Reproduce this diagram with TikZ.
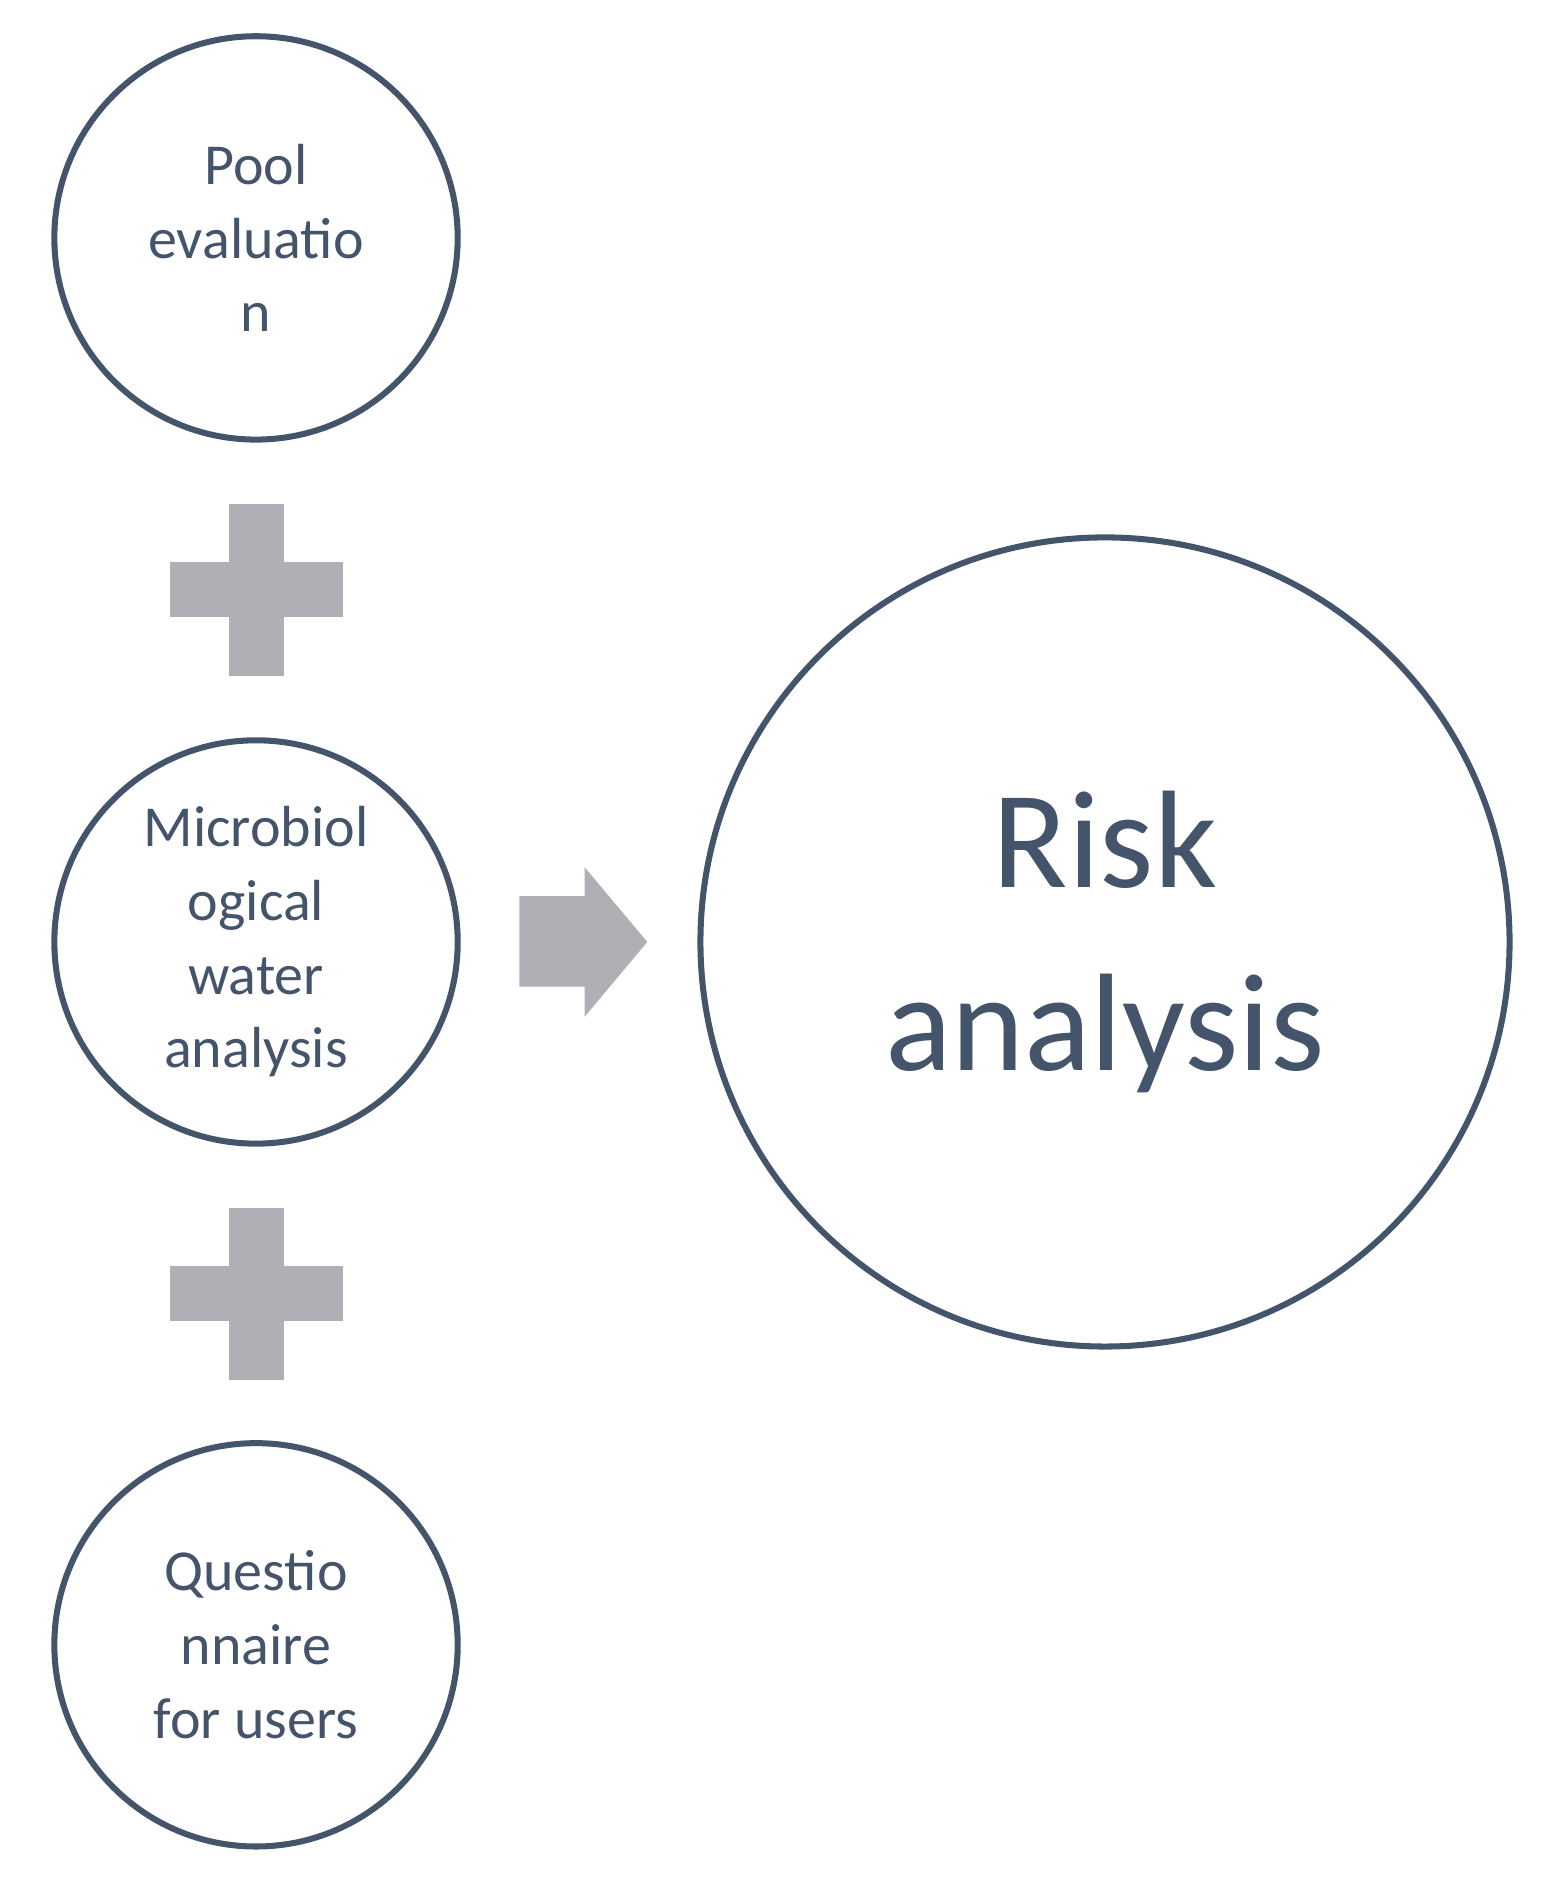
\documentclass[tikz,border=0pt]{standalone}
\usepackage{fontspec}
\setmainfont{Carlito}
\definecolor{dk}{HTML}{44546A}
\definecolor{gr}{HTML}{AEB0B6}
\begin{document}
\begin{tikzpicture}[x=1pt,y=-1pt,
  circ/.style={circle,draw=dk,line width=5pt,inner sep=0pt,text=dk,align=center},
  small/.style={circ,minimum size=334pt,font=\fontsize{48}{61}\selectfont},
  plus/.style={fill=gr}]
\useasboundingbox (0,0) rectangle (1280,1570);
\node[small] (a) at (212,197) {Pool\\evaluatio\\n};
\node[small] (b) at (212,780) {Microbiol\\ogical\\water\\analysis};
\node[small] (c) at (212,1362) {Questio\\nnaire\\for users};
\node[circ,minimum size=670pt,font=\fontsize{115}{152}\selectfont] (r) at (915,780) {Risk\\analysis};
\foreach \cy in {488,1071}{
  \fill[plus] (190,\cy-71) rectangle (235,\cy+72);
  \fill[plus] (141,\cy-23) rectangle (284,\cy+23);
}
\fill[gr] (430,742) -- (484,742) -- (484,718) -- (536,780) -- (484,842) -- (484,817) -- (430,817) -- cycle;
\end{tikzpicture}
\end{document}
